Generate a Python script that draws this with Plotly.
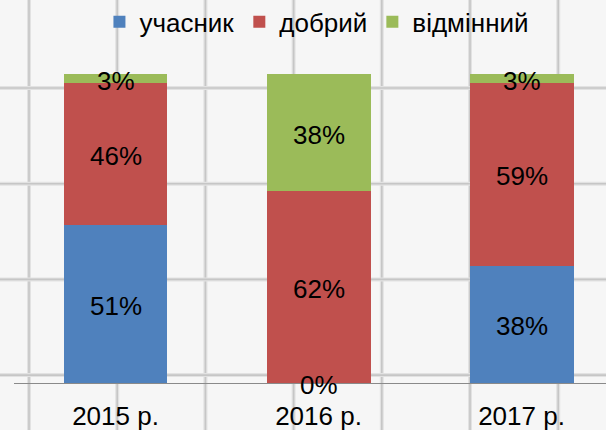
import plotly.graph_objects as go

categories = ["2015 р.", "2016 р.", "2017 р."]
series_names = ["учасник", "добрий", "відмінний"]
uchasnyk = [51, 0, 38]
dobryi = [46, 62, 59]
vidminnyi = [3, 38, 3]
colors = ["#4f81bd", "#c0504d", "#9bbb59"]

series_values = [uchasnyk, dobryi, vidminnyi]

W, H = 606, 430
ML, MR, MT, MB = 14, 0, 74, 47
PW, PH = W - ML - MR, H - MT - MB
FONT = "Liberation Sans, Arial, sans-serif"

fig = go.Figure()
for name, vals, col in zip(series_names, series_values, colors):
    fig.add_trace(go.Bar(x=categories, y=vals, name=name, marker=dict(color=col, line=dict(width=0)),
                         textposition="none", hoverinfo="skip"))

# data labels at the middle of each segment
annotations = []
base = [0] * len(categories)
for vals in series_values:
    for cat, b, v in zip(categories, base, vals):
        annotations.append(dict(x=cat, y=b + v / 2, xref="x", yref="y", text=f"{v}%",
                                showarrow=False, yshift=-2, xanchor="center", yanchor="middle",
                                font=dict(family=FONT, size=26, color="#000000")))
    base = [b + v for b, v in zip(base, vals)]

# background paper grid (decoration)
shapes = []
def px_to_xp(px):
    return (px - ML) / PW
def py_to_yp(py):
    return (MT + PH - py) / PH

vx = [29 + 88.2 * i for i in range(7)]
hy = [88 + 95.7 * i for i in range(4)]
for px in vx:
    for w, c in ((4, "#e2e2e2"), (1.6, "#c6c6c6")):
        shapes.append(dict(type="line", xref="paper", yref="paper", layer="below",
                           x0=px_to_xp(px), x1=px_to_xp(px), y0=py_to_yp(H), y1=py_to_yp(0),
                           line=dict(color=c, width=w)))
for py in hy:
    for w, c in ((4, "#e2e2e2"), (1.6, "#c6c6c6")):
        shapes.append(dict(type="line", xref="paper", yref="paper", layer="below",
                           x0=px_to_xp(0), x1=px_to_xp(W), y0=py_to_yp(py), y1=py_to_yp(py),
                           line=dict(color=c, width=w)))

fig.update_layout(
    width=W, height=H,
    margin=dict(l=ML, r=MR, t=MT, b=MB, autoexpand=False),
    barmode="stack", bargap=0.488,
    paper_bgcolor="#f6f6f6", plot_bgcolor="rgba(0,0,0,0)",
    font=dict(family=FONT, size=26, color="#000000"),
    showlegend=True,
    legend=dict(orientation="h", xref="container", yref="container", x=0.523, y=0.949,
                xanchor="center", yanchor="middle", traceorder="normal",
                font=dict(family=FONT, size=26, color="#000000"), bgcolor="rgba(0,0,0,0)",
                itemwidth=30, tracegroupgap=0),
    xaxis=dict(type="category", range=[-0.5, 2.416], showgrid=False, zeroline=False,
               showline=True, linecolor="#8a8a8a", linewidth=1.2, ticks="", automargin=False,
               tickfont=dict(family=FONT, size=26, color="#000000"), ticklabelstandoff=10),
    yaxis=dict(range=[0, 100], visible=False, showgrid=False, zeroline=False, automargin=False),
    shapes=shapes,
    annotations=annotations,
)

fig.write_html("out.html", config={"displayModeBar": False},
               post_script="document.body.style.margin='0';document.body.style.padding='0';"
                           "document.body.style.overflow='hidden';document.body.style.background='#f6f6f6';")
